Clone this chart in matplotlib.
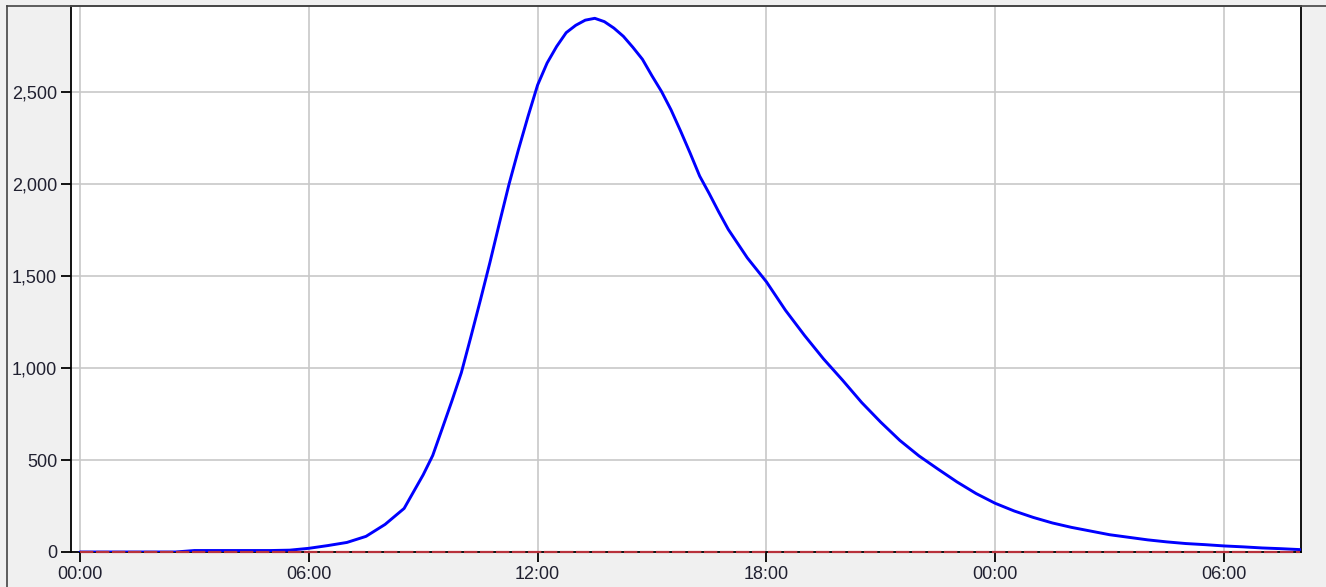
import numpy as np
import matplotlib
matplotlib.use("Agg")
import matplotlib.pyplot as plt
from matplotlib.lines import Line2D
from matplotlib.ticker import StrMethodFormatter

# hours since 00:00 on day one
hours = [0, 0.5, 1, 1.5, 2, 2.5, 3, 3.5, 4, 4.5, 5, 5.5, 6, 6.5, 7, 7.5,
         8, 8.5, 9, 9.25, 9.5, 9.75, 10, 10.25, 10.5, 10.75, 11, 11.25, 11.5, 11.75,
         12, 12.25, 12.5, 12.75, 13, 13.25, 13.5, 13.75, 14, 14.25, 14.5, 14.75,
         15, 15.25, 15.5, 15.75, 16, 16.25, 16.5, 16.75, 17, 17.5,
         18, 18.5, 19, 19.5, 20, 20.5, 21, 21.5, 22, 22.5, 23, 23.5,
         24, 24.5, 25, 25.5, 26, 26.5, 27, 27.5, 28, 28.5, 29, 29.5, 30, 30.5, 31, 31.5, 32]

flow = [0, 0, 0, 0, 0, 0, 8, 8, 8, 8, 8, 10, 20, 35, 52, 85,
        150, 237, 420, 525, 672, 820, 975, 1170, 1370, 1575, 1790, 2000, 2190, 2370,
        2540, 2660, 2750, 2825, 2865, 2893, 2903, 2885, 2850, 2805, 2745, 2680,
        2590, 2505, 2405, 2290, 2170, 2045, 1950, 1850, 1755, 1600,
        1470, 1315, 1178, 1050, 934, 813, 706, 607, 523, 451, 381, 318,
        265, 223, 188, 158, 134, 114, 94, 80, 66, 55, 46, 40, 33, 28, 22, 18, 13]

baseline = [0] * len(hours)

tick_hours = [0, 6, 12, 18, 24, 30]
tick_labels = ["00:00", "06:00", "12:00", "18:00", "00:00", "06:00"]
y_ticks = [0, 500, 1000, 1500, 2000, 2500]

plt.rcParams["font.family"] = ["Liberation Sans", "DejaVu Sans"]

bg = "#f0f0f0"
fig = plt.figure(figsize=(13.26, 5.87), dpi=100, facecolor=bg)
ax = fig.add_axes([71 / 1326, 35 / 587, 1230 / 1326, 546 / 587])
ax.set_facecolor("white")

ax.plot(hours, flow, color="#0000ff", lw=2.1, zorder=3,
        solid_joinstyle="round", solid_capstyle="round")
ax.plot(hours, baseline, color="#b8323c", lw=1.6, dashes=(6, 1.2), zorder=4, clip_on=False)

ax.set_xlim(-0.236, 32.02)
ax.set_ylim(0, 2970)
ax.set_xticks(tick_hours)
ax.set_xticklabels(tick_labels)
ax.set_yticks(y_ticks)
ax.yaxis.set_major_formatter(StrMethodFormatter("{x:,.0f}"))

ax.grid(True, color="#c8c8c8", lw=1.2)
ax.set_axisbelow(True)

for s in ax.spines.values():
    s.set_color("black")
    s.set_linewidth(1.3)
ax.spines["top"].set_color("#555555")

ax.tick_params(axis="both", length=7, width=1.3, color="black", labelsize=13,
               labelcolor="#202030", pad=3)

# outer frame lines of the panel
fig.add_artist(Line2D([7 / 1326, 7 / 1326], [0, 581 / 587], color="#444444", lw=1.2))
fig.add_artist(Line2D([7 / 1326, 1], [581 / 587, 581 / 587], color="#444444", lw=1.2))

fig.savefig("out.png", dpi=100, facecolor=bg)
